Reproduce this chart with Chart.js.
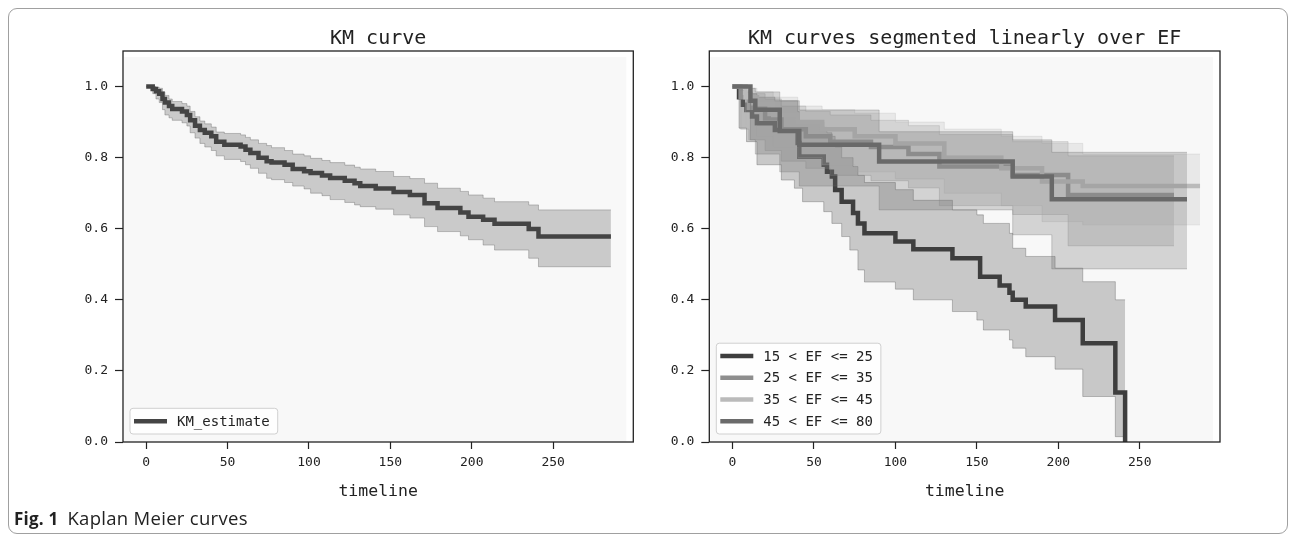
<!DOCTYPE html>
<html>
<head>
<meta charset="utf-8">
<script src="https://cdn.jsdelivr.net/npm/chart.js@4.4.0/dist/chart.umd.min.js"></script>
<style>
body { margin: 0; background: #fff; width: 1296px; height: 535px; overflow: hidden; position: relative; }
#frame { position: absolute; left: 8px; top: 8px; width: 1278px; height: 524px; border: 1px solid #a0a0a0; border-radius: 9px; }
canvas { position: absolute; top: 0; }
#left { left: 0; }
#right { left: 648px; }
#caption { position: absolute; left: 14px; top: 505px; font-family: "Open Sans", "Noto Sans", sans-serif; font-size: 18.5px; color: #222; letter-spacing: 0.3px; white-space: nowrap; }
#caption b { font-size: 17px; letter-spacing: 0.2px; margin-right: 4px; }
</style>
</head>
<body>
<div id="frame"></div>
<canvas id="left" width="648" height="535"></canvas>
<canvas id="right" width="648" height="535"></canvas>
<div id="caption"><b>Fig. 1</b> Kaplan Meier curves</div>
<script>
// ticks
var xTicks = [0, 50, 100, 150, 200, 250];
var yTicks = [0, 0.2, 0.4, 0.6, 0.8, 1.0];

// left panel: KM estimate of the whole cohort
var kmTime  = [0, 4, 6, 8, 10, 11.5, 14, 16, 22, 25, 27, 30, 33, 36, 40, 43, 48, 58, 61, 64, 69, 74, 77, 85, 90, 97, 101, 108, 113, 122, 128, 131.5, 141, 152, 162, 171, 179, 193, 198, 207, 214, 235, 241, 285.5];
var kmSurv  = [1, .993, .987, .98, .965, .955, .945, .937, .93, .92, .905, .89, .878, .87, .86, .845, .836, .831, .822, .813, .80, .79, .786, .78, .768, .762, .757, .75, .743, .735, .728, .72, .713, .703, .695, .672, .658, .646, .634, .625, .614, .599, .578, .578];
var kmUpper = [1, 1, .998, .995, .985, .975, .965, .958, .952, .945, .93, .915, .903, .895, .886, .872, .868, .864, .857, .85, .84, .834, .828, .82, .81, .805, .798, .792, .786, .779, .773, .768, .761, .747, .741, .728, .714, .705, .695, .686, .676, .667, .653, .653];
var kmLower = [1, .98, .965, .955, .935, .92, .912, .905, .898, .889, .87, .855, .84, .83, .82, .805, .795, .789, .78, .77, .756, .742, .738, .73, .72, .712, .70, .693, .682, .674, .667, .662, .655, .639, .63, .606, .592, .58, .569, .554, .54, .517, .493, .493];

// right panel: one curve per EF segment
var efLabels = ['15 < EF <= 25', '25 < EF <= 35', '35 < EF <= 45', '45 < EF <= 80'];

var ef1Time  = [0, 4, 6.4, 8.6, 12, 15, 26, 30, 38, 40, 41, 43, 56, 58, 61, 63, 67, 72, 74, 77, 81, 100, 111, 135, 150, 152, 154, 164, 170, 172, 180, 198, 215, 235, 241];
var ef1Surv  = [1, .97, .949, .934, .916, .897, .878, .878, .878, .841, .803, .803, .78, .76, .747, .709, .676, .676, .644, .615, .587, .564, .542, .517, .517, .465, .465, .44, .42, .40, .381, .343, .278, .139, 0];
var ef1Lower = [1, .883, .883, .845, .845, .78, .78, .737, .714, .714, .714, .676, .648, .648, .615, .615, .578, .54, .54, .484, .45, .43, .40, .367, .343, .343, .315, .315, .287, .264, .24, .205, .128, .015, .015];
var ef1Upper = [1, .995, .99, .985, .98, .97, .96, .96, .96, .93, .90, .90, .885, .87, .86, .83, .80, .80, .775, .75, .73, .71, .68, .653, .639, .639, .615, .615, .587, .545, .522, .489, .451, .40, .40];

var ef2Time  = [0, 5, 10, 20, 30, 45, 60, 85, 108, 127, 172, 206, 271];
var ef2Surv  = [1, .97, .94, .91, .88, .86, .845, .83, .81, .775, .751, .695, .695];
var ef2Lower = [1, .88, .85, .82, .79, .77, .75, .735, .715, .665, .64, .552, .552];
var ef2Upper = [1, .99, .98, .965, .945, .93, .92, .905, .89, .865, .845, .805, .805];

var ef3Time  = [0, 8, 15, 25, 40, 55, 75, 100, 130, 165, 190, 215, 287];
var ef3Surv  = [1, .97, .95, .92, .90, .88, .86, .84, .80, .77, .733, .72, .72];
var ef3Lower = [1, .89, .86, .83, .80, .78, .76, .74, .70, .665, .62, .611, .611];
var ef3Upper = [1, .995, .985, .97, .945, .935, .925, .9, .88, .86, .84, .81, .81];

var ef4Time  = [0, 11, 14, 29, 41, 90, 172, 196, 279];
var ef4Surv  = [1, .96, .935, .875, .836, .789, .747, .683, .683];
var ef4Lower = [1, .85, .81, .76, .72, .653, .583, .487, .487];
var ef4Upper = [1, .995, .985, .96, .934, .873, .85, .815, .815];

Chart.defaults.font.family = 'DejaVu Sans Mono';
Chart.defaults.color = '#222';

// line + shaded CI for one curve; s = matplotlib draw step (later = on top)
function kmSets(label, color, rgb, time, surv, lower, upper, s) {
	function pts(vals) {
		return time.map(function (t, i) { return {x: t, y: vals[i]}; });
	}
	var band = {stepped: true, pointRadius: 0, borderWidth: 1, borderColor: 'rgba(' + rgb + ',0.3)'};
	return [
		Object.assign({label: label + ' upper', data: pts(upper), fill: '+1', backgroundColor: 'rgba(' + rgb + ',0.26)', order: 100 - s - 1}, band),
		Object.assign({label: label + ' lower', data: pts(lower), fill: false, order: 100 - s - 1}, band),
		{label: label, data: pts(surv), stepped: true, pointRadius: 0, borderWidth: 4.5, borderColor: color, fill: false, order: 100 - s, inLegend: true}
	];
}

var panel = {
	id: 'panel',
	beforeDatasetsDraw: function (chart) {
		var ctx = chart.ctx, a = chart.chartArea;
		ctx.save();
		ctx.fillStyle = '#f8f8f8';
		ctx.fillRect(a.left + 1, a.top + 6, a.right - a.left - 8, a.bottom - a.top - 6);
		ctx.restore();
	},
	afterDatasetsDraw: function (chart) {
		var ctx = chart.ctx, a = chart.chartArea;
		ctx.save();
		ctx.strokeStyle = '#222';
		ctx.lineWidth = 1.3;
		ctx.strokeRect(a.left, a.top, a.right - a.left, a.bottom - a.top);

		// legend box, lower left
		var items = chart.data.datasets.filter(function (d) { return d.inLegend; });
		ctx.font = '14px "DejaVu Sans Mono"';
		var tw = 0;
		items.forEach(function (d) { tw = Math.max(tw, ctx.measureText(d.label).width); });
		var rowH = 21.7;
		var w = 4 + 33 + 10 + tw + 8, h = items.length * rowH + 4;
		var x = a.left + 7, y = a.bottom - 8 - h;
		ctx.beginPath();
		ctx.roundRect(x, y, w, h, 3);
		ctx.fillStyle = 'rgba(255,255,255,0.8)';
		ctx.fill();
		ctx.strokeStyle = '#d0d0d0';
		ctx.lineWidth = 1;
		ctx.stroke();
		items.forEach(function (d, i) {
			var cy = y + 2 + rowH * (i + 0.5);
			ctx.beginPath();
			ctx.moveTo(x + 4, cy);
			ctx.lineTo(x + 37, cy);
			ctx.strokeStyle = d.borderColor;
			ctx.lineWidth = 4.5;
			ctx.stroke();
			ctx.fillStyle = '#222';
			ctx.textBaseline = 'middle';
			ctx.fillText(d.label, x + 47, cy + 1);
		});
		ctx.restore();
	}
};

function options(title, yWidth, padRight) {
	return {
		responsive: false,
		animation: false,
		devicePixelRatio: 1,
		layout: {padding: {left: 0, right: padRight, top: 12, bottom: 31}},
		plugins: {
			legend: {display: false},
			tooltip: {enabled: false},
			title: {display: true, text: title, fullSize: false, color: '#222',
				font: {size: 20, weight: 'normal'}, padding: {top: 15, bottom: 0}}
		},
		scales: {
			x: {
				type: 'linear', min: -14.25, max: 299.25,
				afterBuildTicks: function (s) { s.ticks = xTicks.map(function (v) { return {value: v}; }); },
				afterFit: function (s) { s.height = 62; },
				ticks: {font: {size: 13}, color: '#222', padding: 6, maxRotation: 0},
				grid: {drawOnChartArea: false, tickLength: 7, color: '#222', tickWidth: 1.2},
				border: {display: false},
				title: {display: true, text: 'timeline', font: {size: 16.5}, color: '#222', padding: {top: 0, bottom: 2}}
			},
			y: {
				min: 0, max: 1.1,
				afterBuildTicks: function (s) { s.ticks = yTicks.map(function (v) { return {value: v}; }); },
				afterFit: function (s) { s.width = yWidth; },
				ticks: {font: {size: 13}, color: '#222', padding: 7, callback: function (v) { return v.toFixed(1); }},
				grid: {drawOnChartArea: false, tickLength: 8, color: '#222', tickWidth: 1.2},
				border: {display: false}
			}
		}
	};
}

new Chart(document.getElementById('left'), {
	type: 'line',
	data: {datasets: kmSets('KM_estimate', '#444444', '68,68,68', kmTime, kmSurv, kmLower, kmUpper, 0)},
	options: options('KM curve', 123, 14.7),
	plugins: [panel]
});

var efSets = []
	.concat(kmSets(efLabels[0], '#3e3e3e', '62,62,62', ef1Time, ef1Surv, ef1Lower, ef1Upper, 0))
	.concat(kmSets(efLabels[1], '#8e8e8e', '142,142,142', ef2Time, ef2Surv, ef2Lower, ef2Upper, 2))
	.concat(kmSets(efLabels[2], '#bababa', '186,186,186', ef3Time, ef3Surv, ef3Lower, ef3Upper, 4))
	.concat(kmSets(efLabels[3], '#6a6a6a', '106,106,106', ef4Time, ef4Surv, ef4Lower, ef4Upper, 6));

new Chart(document.getElementById('right'), {
	type: 'line',
	data: {datasets: efSets},
	options: options('KM curves segmented linearly over EF', 61.3, 76),
	plugins: [panel]
});
</script>
</body>
</html>
